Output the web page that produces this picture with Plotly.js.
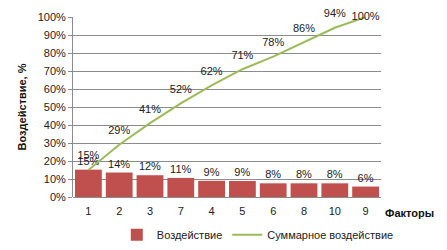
<!DOCTYPE html>
<html>
<head>
<meta charset="utf-8">
<script src="https://cdn.plot.ly/plotly-3.0.1.min.js"></script>
<style>html,body{margin:0;padding:0;background:#fff;}#chart{width:447px;height:250px;}</style>
</head>
<body>
<div id="chart"></div>
<script>
const factors = ['1', '2', '3', '7', '4', '5', '6', '8', '10', '9'];
const impact = [15.2, 13.6, 12.1, 10.6, 9.0, 8.9, 7.6, 7.6, 7.6, 5.8];
const cumulative = [15, 29, 41, 52, 62, 71, 78, 86, 94, 100];
const yTicks = [0, 10, 20, 30, 40, 50, 60, 70, 80, 90, 100];

const font = {family: 'Liberation Sans, Arial, sans-serif', size: 11, color: '#222'};
const lastIdx = cumulative.length - 1;

const traces = [
  {
    type: 'bar', name: 'Воздействие', x: factors, y: impact,
    marker: {color: '#C0504D'},
    text: impact.map(v => Math.round(v) + '%'),
    textposition: 'outside', cliponaxis: false,
    textfont: font, hoverinfo: 'skip'
  },
  {
    type: 'scatter', mode: 'lines+markers+text', name: 'Суммарное воздействие',
    x: factors, y: cumulative,
    line: {color: '#9BBB59', width: 2},
    marker: {size: 11, color: 'rgba(0,0,0,0)', line: {width: 0}},
    text: cumulative.map(v => v + '%'),
    textposition: cumulative.map((v, i) => i === lastIdx ? 'middle center' : 'top center'),
    cliponaxis: false,
    textfont: font, hoverinfo: 'skip'
  }
];

const layout = {
  width: 447, height: 250,
  margin: {l: 73, r: 66, t: 17, b: 53, autoexpand: false},
  paper_bgcolor: '#fff', plot_bgcolor: '#fff',
  font: font,
  showlegend: true,
  bargap: 0.13,
  legend: {orientation: 'h', x: 0.6, xanchor: 'center', y: -0.21, yanchor: 'middle',
           font: font, itemwidth: 30, tracegroupgap: 0, bgcolor: 'rgba(0,0,0,0)'},
  xaxis: {type: 'category', range: [-0.5, factors.length - 0.5], autorange: false,
          showgrid: false, zeroline: false, showline: false, automargin: false,
          ticks: '', ticklabelstandoff: 6, tickfont: font, fixedrange: true},
  yaxis: {range: [0, 100], autorange: false, tickvals: yTicks, ticktext: yTicks.map(v => v + '%'), automargin: false,
          showgrid: true, gridcolor: '#8c8c8c', gridwidth: 1,
          zeroline: true, zerolinecolor: '#8c8c8c',
          showline: true, linecolor: '#8c8c8c', ticks: 'outside', ticklen: 4, tickcolor: '#8c8c8c',
          tickfont: font,
          title: {text: 'Воздействие, %', font: {family: font.family, size: 11, color: '#111', weight: 'bold'}, standoff: 8}},
  annotations: [
    {xref: 'paper', yref: 'paper', x: 1, y: 0, xanchor: 'left', yanchor: 'middle', yshift: -16, xshift: 2,
     text: '<b>Факторы</b>', showarrow: false, font: {family: font.family, size: 11, color: '#111'}}
  ]
};

Plotly.newPlot('chart', traces, layout, {displayModeBar: false, staticPlot: true});
</script>
</body>
</html>
